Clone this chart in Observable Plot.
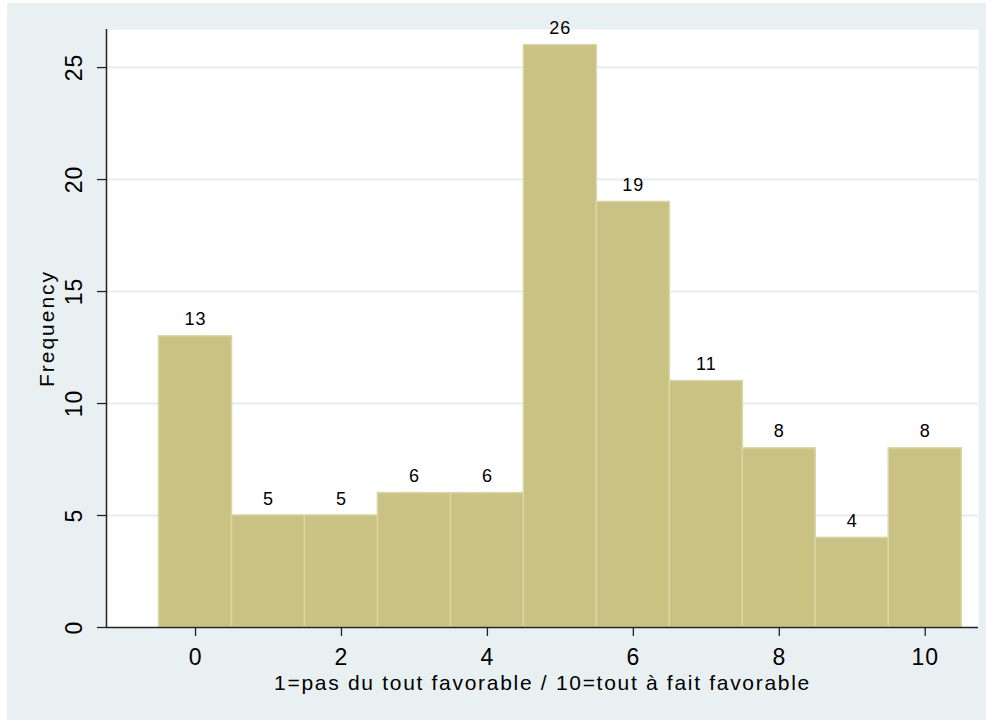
<!DOCTYPE html>
<html>
<head>
<meta charset="utf-8">
<script src="https://cdn.jsdelivr.net/npm/d3@7"></script>
<script src="https://cdn.jsdelivr.net/npm/@observablehq/plot@0.6"></script>
<style>
  html, body { margin: 0; padding: 0; background: #ffffff; }
  #wrap { position: relative; width: 986px; height: 720px; overflow: hidden; }
  #panel { position: absolute; left: 7px; top: 3px; right: 0; bottom: 0; background: #E8F0F2; }
  #chart { position: absolute; left: 0; top: 0; }
</style>
</head>
<body>
<div id="wrap">
  <div id="panel"></div>
  <div id="chart"></div>
</div>
<script>
// Data
const scores = [0, 1, 2, 3, 4, 5, 6, 7, 8, 9, 10];
const counts = [13, 5, 5, 6, 6, 26, 19, 11, 8, 4, 8];
const xTicks = [0, 2, 4, 6, 8, 10];
const yTicks = [0, 5, 10, 15, 20, 25];
const gridTicks = [5, 10, 15, 20, 25];
const xTitle = "1=pas du tout favorable / 10=tout à fait favorable";
const yTitle = "Frequency";

const data = scores.map((s, i) => ({score: s, count: counts[i]}));

const chart = Plot.plot({
  width: 986,
  height: 720,
  marginLeft: 106,
  marginRight: 8,
  marginTop: 29,
  marginBottom: 93,
  style: {background: "transparent", fontFamily: "'Liberation Sans', Arial, sans-serif", color: "#000"},
  x: {type: "linear", domain: [-1.22, 10.73]},
  y: {domain: [0, 26.7]},
  marks: [
    Plot.frame({fill: "white", stroke: null}),
    Plot.ruleY(gridTicks, {stroke: "#E3EDEF", strokeWidth: 2}),
    Plot.rectY(data, {
      x1: d => d.score - 0.5,
      x2: d => d.score + 0.5,
      y: "count",
      fill: "#C9C283",
      stroke: "#DAD5A4",
      strokeWidth: 1.5
    }),
    Plot.text(data, {
      x: "score", y: "count", text: d => String(d.count),
      lineAnchor: "bottom", dy: -11, fontSize: 18, fill: "#000"
    }),
    Plot.axisX({ticks: xTicks, tickSize: 9, tickPadding: 12, fontSize: 23, label: null, stroke: "#222", strokeWidth: 1.3}),
    Plot.axisY({ticks: yTicks, tickSize: 9, tickPadding: 16, tickRotate: -90, fontSize: 23, label: null, stroke: "#222", strokeWidth: 1.3}),
    Plot.ruleX([-1.22], {stroke: "#222", strokeWidth: 1.5}),
    Plot.ruleY([0], {stroke: "#222", strokeWidth: 1.5}),
    Plot.text([xTitle], {frameAnchor: "bottom", textAnchor: "middle", dy: 56, lineAnchor: "middle", fontSize: 21, fill: "#000"}),
    Plot.text([yTitle], {frameAnchor: "left", textAnchor: "middle", rotate: -90, dx: -59, lineAnchor: "middle", fontSize: 21, fill: "#000"})
  ]
});

const svg = d3.select(chart);
svg.selectAll("text").each(function() {
  const t = this.textContent;
  const sel = d3.select(this);
  if (t === xTitle) sel.style("letter-spacing", "1.7px");
  else if (t === yTitle) sel.style("letter-spacing", "2px");
  else sel.style("letter-spacing", "1px");
});

document.getElementById("chart").appendChild(chart);
</script>
</body>
</html>
